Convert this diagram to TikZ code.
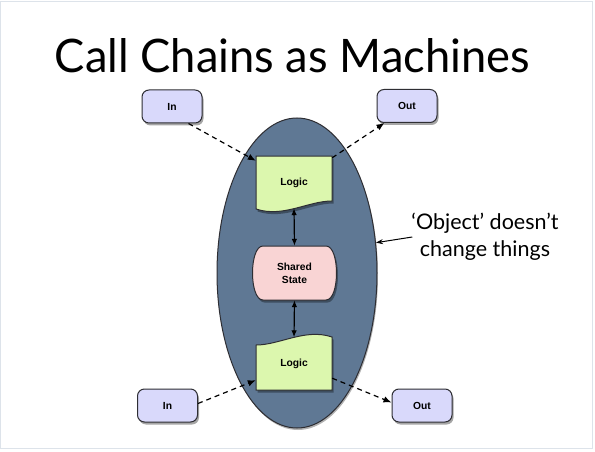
\documentclass[tikz,border=0pt]{standalone}
\usepackage{fontspec}
\setmainfont{Lato}
\newfontfamily\boxfont{Liberation Sans}
\usetikzlibrary{arrows.meta,shadows,shapes.geometric}
\definecolor{slate}{HTML}{5F7894}
\definecolor{lav}{HTML}{D9D9FB}
\definecolor{lgreen}{HTML}{DCF7AE}
\definecolor{lpink}{HTML}{F9D4D4}
\definecolor{framec}{HTML}{DDE3EA}
\definecolor{edge}{HTML}{2E2E33}
\pgfdeclarelayer{bg}
\pgfsetlayers{bg,main}
\tikzset{
  shad/.style={drop shadow={shadow xshift=1.5pt,shadow yshift=-2.5pt,opacity=0.35,fill=black}},
  iobox/.style={rectangle, rounded corners=7pt, minimum width=60pt, minimum height=33pt,
    fill=lav, draw=edge, line width=1pt, shad, font=\boxfont\bfseries\fontsize{10.3}{12}\selectfont},
  plain/.style={inner sep=0pt, font=\boxfont\bfseries\fontsize{10.3}{13.3}\selectfont, align=center},
  shapeline/.style={draw=edge, line width=1pt, shad},
  dasharrow/.style={dashed, dash pattern=on 5pt off 4pt, line width=1.2pt, -{Latex[length=8pt,width=6.5pt]}},
  dblarrow/.style={line width=1.2pt, {Latex[length=7pt,width=5.5pt]}-{Latex[length=7pt,width=5.5pt]}},
  notearrow/.style={line width=1pt, -{Stealth[length=7pt,width=5pt]}}
}
\begin{document}
\begin{tikzpicture}[x=1pt,y=-1pt]
\useasboundingbox (0,0) rectangle (595,452);
\begin{pgfonlayer}{bg}
\fill[white] (0,0) rectangle (595,452);
\draw[framec, line width=1pt] (0.5,1.5) rectangle (592,448);
% object ellipse
\node[ellipse, minimum width=160pt, minimum height=310pt, fill=slate, draw=edge, line width=1pt,
  drop shadow={shadow xshift=1pt,shadow yshift=-2pt,opacity=0.3,fill=black}] (obj) at (297,273) {};
\end{pgfonlayer}

% title
\node[anchor=base, inner sep=0pt] (title) at (292.5,73) {\resizebox{475pt}{34pt}{Call Chains as Machines}};

% logic top
\node[plain, minimum width=76pt, minimum height=54pt] (logicA) at (294,183) {Logic};
\begin{pgfonlayer}{bg}
\path[shapeline, fill=lgreen] (256,156) -- (332,156) -- (332,201)
  .. controls (308,201) and (283,218) .. (256,209) -- cycle;
\end{pgfonlayer}

% shared state
\node[plain, minimum width=83pt, minimum height=54pt] (shared) at (294.5,273) {Shared\\State};
\begin{pgfonlayer}{bg}
\path[shapeline, fill=lpink] (263,246) -- (326,246) .. controls (340,246) and (340,300) .. (326,300)
  -- (263,300) .. controls (249,300) and (249,246) .. (263,246) -- cycle;
\end{pgfonlayer}

% logic bottom
\node[plain, minimum width=76pt, minimum height=55pt] (logicB) at (294,364) {Logic};
\begin{pgfonlayer}{bg}
\path[shapeline, fill=lgreen] (256,345) .. controls (280,345) and (305,328) .. (332,337)
  -- (332,390) -- (256,390) -- cycle;
\end{pgfonlayer}

% in / out boxes
\node[iobox] (intop) at (172,106.5) {In};
\node[iobox] (outtop) at (407,106) {Out};
\node[iobox] (inbot) at (167.5,405.5) {In};
\node[iobox] (outbot) at (422,405.5) {Out};

% connectors
\draw[dasharrow] ([xshift=-14pt]intop.south east) -- ([yshift=-5pt]logicA.north west);
\draw[dasharrow] ([yshift=-2pt]logicA.north east) -- ([xshift=8pt]outtop.south west);
\draw[dasharrow] ([yshift=2pt]inbot.east) -- ([yshift=11.5pt]logicB.south west);
\draw[dasharrow] ([yshift=13.5pt]logicB.south east) -- ([yshift=3pt]outbot.west);
\draw[dblarrow] ([yshift=2pt]logicA.south) -- (shared.north);
\draw[dblarrow] (shared.south) -- ([yshift=-1pt]logicB.north);

% note
\node[inner sep=0pt, align=center, font=\fontsize{21.5}{27}\selectfont] (note) at (485,237)
  {‘Object’ doesn’t\\change things};
\draw[notearrow] ([xshift=1pt]note.west) -- (obj.21);
\end{tikzpicture}
\end{document}
